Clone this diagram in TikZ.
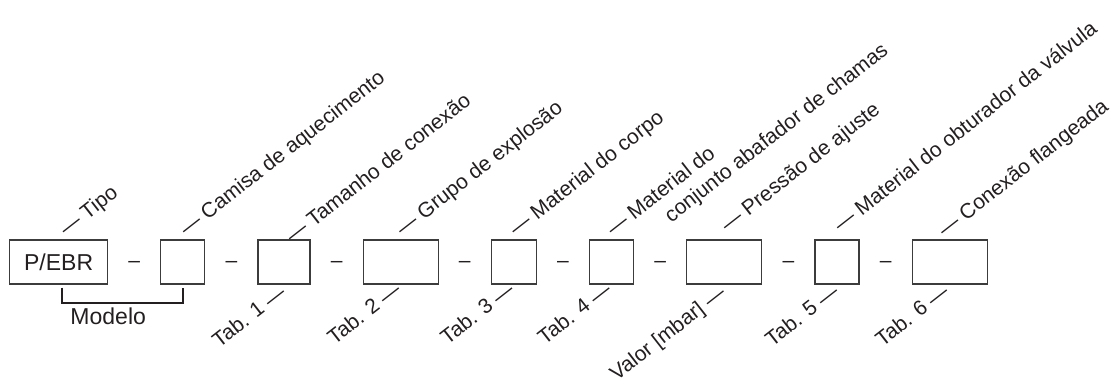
\documentclass[tikz,border=0pt]{standalone}
\usepackage{fontspec}
\setmainfont{Liberation Sans}
\usetikzlibrary{positioning,calc}
\definecolor{Ink}{HTML}{231F20}
\definecolor{Frame}{HTML}{3C3C3C}
\tikzset{
  field/.style={draw=Frame,line width=.6pt,minimum height=22pt,inner sep=0,text=Ink,font=\fontsize{11.5}{13.8}\selectfont},
  sep/.style={anchor=base,inner sep=0,text=Ink},
  upper/.style={rotate=38,anchor=base west,inner sep=0,text=Ink},
  lower/.style={rotate=38,anchor=base east,inner sep=0,text=Ink},
  brace/.style={draw=Ink,line width=1pt}
}

\begin{document}
\begin{tikzpicture}[node distance=26pt,font=\fontsize{10.5}{12.6}\selectfont]
  \node[field,minimum width=49pt] (typ) {P/EBR};
  \node[field,minimum width=22pt,right=of typ] (jacket) {};
  \node[field,minimum width=26pt,right=of jacket] (size) {};
  \node[field,minimum width=37.5pt,right=of size] (group) {};
  \node[field,minimum width=22.5pt,right=of group] (body) {};
  \node[field,minimum width=22pt,right=of body] (arrester) {};
  \node[field,minimum width=37.5pt,right=of arrester] (press) {};
  \node[field,minimum width=22pt,right=of press] (seat) {};
  \node[field,minimum width=37.5pt,right=of seat] (flange) {};
  \useasboundingbox ([shift={(-4.5pt,-62pt)}]typ.west) rectangle ++(556.5pt,193pt);

  % separators between the fields
  \node[sep] at ($(typ.east)!.5!(jacket.west)+(0,-2.8pt)$) {–};
  \node[sep] at ($(jacket.east)!.5!(size.west)+(0,-2.8pt)$) {–};
  \node[sep] at ($(size.east)!.5!(group.west)+(0,-2.8pt)$) {–};
  \node[sep] at ($(group.east)!.5!(body.west)+(0,-2.8pt)$) {–};
  \node[sep] at ($(body.east)!.5!(arrester.west)+(0,-2.8pt)$) {–};
  \node[sep] at ($(arrester.east)!.5!(press.west)+(0,-2.8pt)$) {–};
  \node[sep] at ($(press.east)!.5!(seat.west)+(0,-2.8pt)$) {–};
  \node[sep] at ($(seat.east)!.5!(flange.west)+(0,-2.8pt)$) {–};

  % upper labels
  \node[upper] (l-typ) at ([shift={(3.7pt,1.3pt)}]typ.north) {— Tipo};
  \node[upper] (l-jacket) at ([shift={(1.7pt,1.3pt)}]jacket.north) {— Camisa de aquecimento};
  \node[upper] (l-size) at ([shift={(4.2pt,-2.2pt)}]size.north) {— Tamanho de conexão};
  \node[upper] (l-group) at ([shift={(.95pt,1.3pt)}]group.north) {— Grupo de explosão};
  \node[upper] (l-body) at ([shift={(.95pt,1.3pt)}]body.north) {— Material do corpo};
  \node[upper] (l-arrester) at ([shift={(.7pt,1.3pt)}]arrester.north) {— Material do};
  \node[upper] (l-arrester2) at ($(l-arrester.base west)+(38:27pt)+(-52:12.5pt)$) {conjunto abafador de chamas};
  \node[upper] (l-press) at ([shift={(1.45pt,3.3pt)}]press.north) {— Pressão de ajuste};
  \node[upper] (l-seat) at ([shift={(1.7pt,3.3pt)}]seat.north) {— Material do obturador da válvula};
  \node[upper] (l-flange) at ([shift={(-2.55pt,.8pt)}]flange.north) {— Conexão flangeada};

  % lower labels
  \node[lower] (t-size) at ([shift={(1.7pt,-5.2pt)}]size.south) {Tab. 1 —};
  \node[lower] (t-group) at ([shift={(.95pt,-3.7pt)}]group.south) {Tab. 2 —};
  \node[lower] (t-body) at ([shift={(.95pt,-3.7pt)}]body.south) {Tab. 3 —};
  \node[lower] (t-arrester) at ([shift={(.7pt,-3.7pt)}]arrester.south) {Tab. 4 —};
  \node[lower] (t-press) at ([shift={(1.45pt,-5.2pt)}]press.south) {Valor [mbar] —};
  \node[lower] (t-seat) at ([shift={(1.7pt,-4.7pt)}]seat.south) {Tab. 5 —};
  \node[lower] (t-flange) at ([shift={(.45pt,-4.7pt)}]flange.south) {Tab. 6 —};

  % model bracket
  \draw[brace] ([shift={(1.5pt,-1.5pt)}]typ.south) -- ++(0,-7.5pt) -| ([yshift=-1.5pt]jacket.south);
  \node[sep,font=\fontsize{11.5}{13.8}\selectfont] (model) at ([yshift=-20pt]typ.south east) {Modelo};
\end{tikzpicture}
\end{document}
